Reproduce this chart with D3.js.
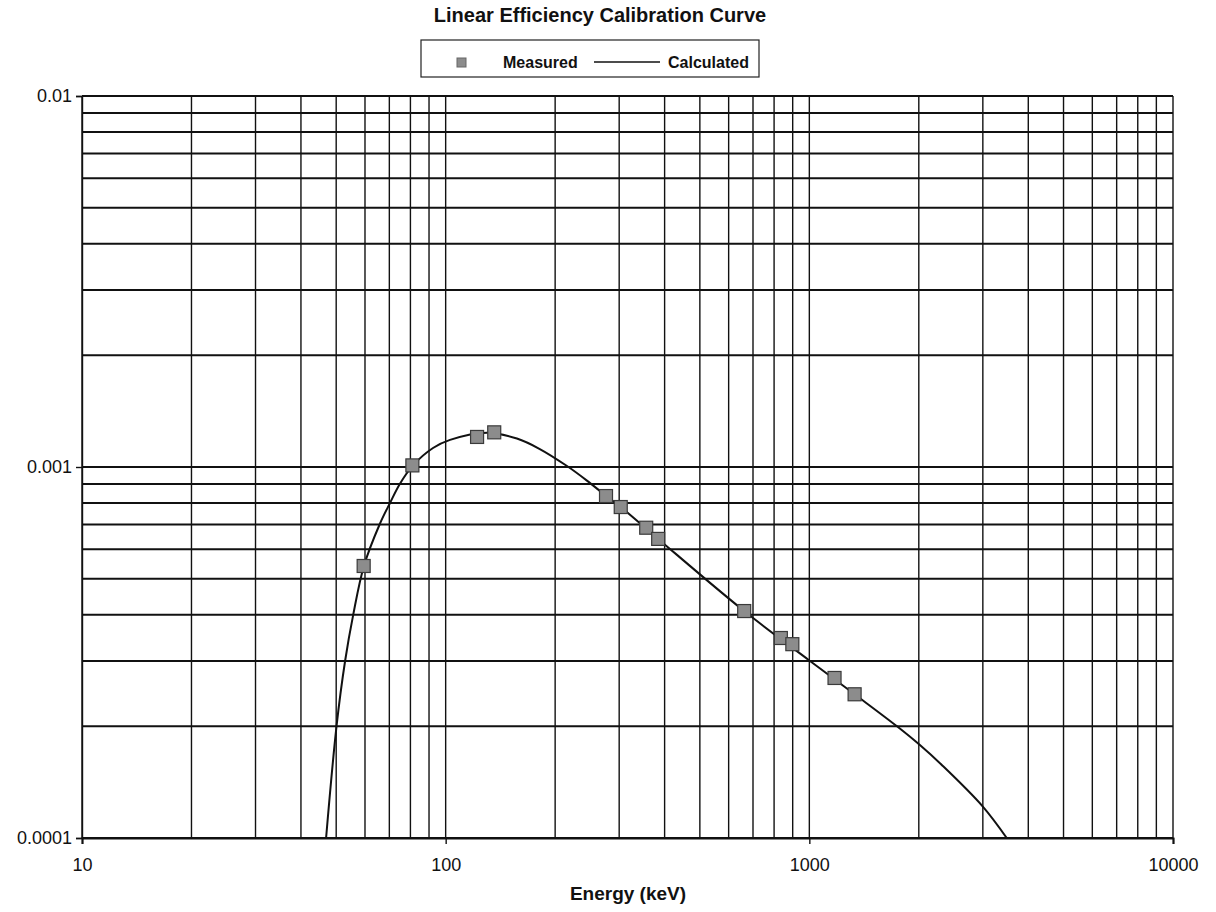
<!DOCTYPE html>
<html lang="en">
<head>
<meta charset="UTF-8">
<title>Linear Efficiency Calibration Curve</title>
<script src="https://cdnjs.cloudflare.com/ajax/libs/d3/7.8.5/d3.min.js"></script>
<style>
  body { margin: 0; background: #fff; }
  svg text { font-family: "Liberation Sans", Arial, sans-serif; fill: #111; }
</style>
</head>
<body>
<div id="chart"></div>
<script>
// measured points (energy in keV, efficiency)
const measuredEnergy = [59.5, 81, 122, 136, 276, 303, 356, 384, 662, 835, 898, 1173, 1332];
const measuredEff = [5.41e-4, 1.01e-3, 1.205e-3, 1.24e-3, 8.35e-4, 7.8e-4, 6.86e-4, 6.4e-4, 4.09e-4, 3.46e-4, 3.33e-4, 2.70e-4, 2.44e-4];

// calculated curve
const calcEnergy = [46.9, 50.1, 52.9, 55.7, 59.6, 65.9, 70.3, 74.8, 81.3, 92.3, 102.8, 129.9, 157, 181.5, 215.6, 244.6, 276, 303, 384, 662, 1000, 1332, 1742, 2014, 2328, 3000, 3490];
const calcEff = [1.0e-4, 2.0e-4, 3.0e-4, 4.0e-4, 5.41e-4, 7.02e-4, 8.0e-4, 9.0e-4, 1.01e-3, 1.125e-3, 1.183e-3, 1.237e-3, 1.193e-3, 1.118e-3, 1.006e-3, 9.19e-4, 8.36e-4, 7.8e-4, 6.4e-4, 4.09e-4, 3.01e-4, 2.44e-4, 2.0e-4, 1.78e-4, 1.564e-4, 1.215e-4, 1.0e-4];

const xTickLabels = ["10", "100", "1000", "10000"];
const yTickLabels = ["0.0001", "0.001", "0.01"];

const W = 1216, H = 912;
const plotL = 82, plotR = 1173, plotT = 96, plotB = 838;

const svg = d3.select("#chart").append("svg")
    .attr("width", W).attr("height", H);

const x = d3.scaleLog().domain([10, 10000]).range([plotL, plotR]);
const y = d3.scaleLog().domain([1e-4, 1e-2]).range([plotB, plotT]);

// grid
svg.append("g").selectAll("line")
    .data(x.ticks())
    .enter().append("line")
    .attr("x1", d => x(d)).attr("x2", d => x(d))
    .attr("y1", plotT).attr("y2", plotB)
    .attr("stroke", "#111").attr("stroke-width", 1.4);

svg.append("g").selectAll("line")
    .data(y.ticks())
    .enter().append("line")
    .attr("x1", plotL).attr("x2", plotR)
    .attr("y1", d => y(d)).attr("y2", d => y(d))
    .attr("stroke", "#111").attr("stroke-width", 2);

// axes
const xAxis = d3.axisBottom(x)
    .tickValues(xTickLabels.map(Number))
    .tickFormat((d, i) => xTickLabels[i])
    .tickSize(6).tickPadding(14);
const gx = svg.append("g").attr("transform", "translate(0," + plotB + ")").call(xAxis);
gx.select(".domain").attr("stroke", "#111").attr("stroke-width", 2);
gx.selectAll(".tick line").attr("stroke", "#111").attr("stroke-width", 1.4);
gx.selectAll("text").style("font-size", "18px");

const yAxis = d3.axisLeft(y)
    .tickValues(yTickLabels.map(Number))
    .tickFormat((d, i) => yTickLabels[i])
    .tickSize(6).tickPadding(4);
const gy = svg.append("g").attr("transform", "translate(" + plotL + ",0)").call(yAxis);
gy.select(".domain").attr("stroke", "#111").attr("stroke-width", 1.4);
gy.selectAll(".tick line").attr("stroke", "#111").attr("stroke-width", 1.4);
gy.selectAll("text").style("font-size", "18px");

// clipped curve
svg.append("clipPath").attr("id", "plot")
    .append("rect").attr("x", plotL).attr("y", plotT)
    .attr("width", plotR - plotL).attr("height", plotB - plotT);

const line = d3.line()
    .x(d => x(d[0])).y(d => y(d[1]))
    .curve(d3.curveCatmullRom.alpha(0.5));

svg.append("path")
    .datum(calcEnergy.map((e, i) => [e, calcEff[i]]))
    .attr("clip-path", "url(#plot)")
    .attr("d", line)
    .attr("fill", "none").attr("stroke", "#111").attr("stroke-width", 2);

// measured markers
svg.append("g").selectAll("rect")
    .data(measuredEnergy.map((e, i) => [e, measuredEff[i]]))
    .enter().append("rect")
    .attr("x", d => x(d[0]) - 6.5).attr("y", d => y(d[1]) - 6.5)
    .attr("width", 13).attr("height", 13)
    .attr("fill", "#8c8c8c").attr("stroke", "#3a3a3a").attr("stroke-width", 1.2);

// title
svg.append("text")
    .attr("x", 600).attr("y", 22)
    .attr("text-anchor", "middle")
    .style("font-size", "20px").style("font-weight", "bold")
    .text("Linear Efficiency Calibration Curve");

// legend
const lg = svg.append("g");
lg.append("rect")
    .attr("x", 421).attr("y", 40).attr("width", 338).attr("height", 37)
    .attr("fill", "none").attr("stroke", "#222").attr("stroke-width", 1.2);
lg.append("rect")
    .attr("x", 457).attr("y", 58).attr("width", 9).attr("height", 9)
    .attr("fill", "#8c8c8c").attr("stroke", "#666").attr("stroke-width", 1);
lg.append("text")
    .attr("x", 503).attr("y", 68)
    .style("font-size", "16px").style("font-weight", "bold")
    .text("Measured");
lg.append("line")
    .attr("x1", 594).attr("x2", 660).attr("y1", 62).attr("y2", 62)
    .attr("stroke", "#111").attr("stroke-width", 1.4);
lg.append("text")
    .attr("x", 668).attr("y", 68)
    .style("font-size", "16px").style("font-weight", "bold")
    .text("Calculated");

// x axis title
svg.append("text")
    .attr("x", 628).attr("y", 900)
    .attr("text-anchor", "middle")
    .style("font-size", "19px").style("font-weight", "bold")
    .text("Energy (keV)");
</script>
</body>
</html>
